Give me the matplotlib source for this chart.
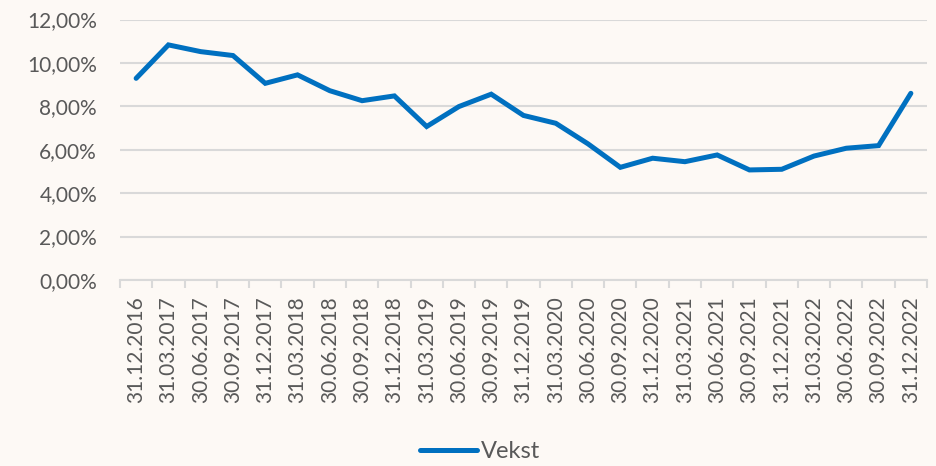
import matplotlib.pyplot as plt
import numpy as np
from matplotlib.ticker import FuncFormatter

# quarterly dates and growth (percent)
dates = ['31.12.2016', '31.03.2017', '30.06.2017', '30.09.2017', '31.12.2017',
         '31.03.2018', '30.06.2018', '30.09.2018', '31.12.2018', '31.03.2019',
         '30.06.2019', '30.09.2019', '31.12.2019', '31.03.2020', '30.06.2020',
         '30.09.2020', '31.12.2020', '31.03.2021', '30.06.2021', '30.09.2021',
         '31.12.2021', '31.03.2022', '30.06.2022', '30.09.2022', '31.12.2022']
vekst = [9.29, 10.83, 10.52, 10.34, 9.06, 9.45, 8.72, 8.26, 8.48, 7.07,
         7.99, 8.56, 7.58, 7.22, 6.27, 5.19, 5.61, 5.45, 5.76, 5.07,
         5.10, 5.71, 6.07, 6.19, 8.60]

bg = '#FDF9F5'
txt = '#595959'
grid = '#D9D9D9'

plt.rcParams['font.family'] = ['Lato', 'DejaVu Sans']

fig = plt.figure(figsize=(9.36, 4.66), dpi=100, facecolor=bg)
ax = fig.add_axes([120/936, 1 - 280/466, 807/936, 260.5/466])
ax.set_facecolor(bg)

x = np.arange(len(dates))
ax.plot(x, vekst, color='#0070C0', linewidth=3.6, solid_capstyle='round',
        solid_joinstyle='miter', label='Vekst', zorder=3)

ax.set_ylim(0, 12)
ax.set_yticks(np.arange(0, 13, 2))
ax.yaxis.set_major_formatter(FuncFormatter(lambda v, p: f'{v:.2f}%'.replace('.', ',')))
ax.grid(axis='y', color=grid, linewidth=1.5)
ax.set_axisbelow(True)

ax.set_xlim(-0.5, len(dates) - 0.5)
ax.set_xticks(x)
ax.set_xticklabels(dates, rotation=90)
ax.set_xticks(np.arange(-0.5, len(dates)), minor=True)
ax.tick_params(axis='x', which='major', length=0, pad=12, labelsize=15, labelcolor=txt)
ax.tick_params(axis='x', which='minor', length=6, width=1.5, color=grid)
ax.tick_params(axis='y', length=0, pad=16.5, labelsize=15, labelcolor=txt)

for s in ['left', 'right', 'top']:
    ax.spines[s].set_visible(False)
ax.spines['bottom'].set_color(grid)
ax.spines['bottom'].set_linewidth(1.5)

leg = fig.legend(loc='center', bbox_to_anchor=(480/936, 1 - 452/466), frameon=False,
                 fontsize=17, handlelength=2.4, handletextpad=0.15)
for t in leg.get_texts():
    t.set_color(txt)

fig.savefig('out.png', dpi=100, facecolor=bg)
